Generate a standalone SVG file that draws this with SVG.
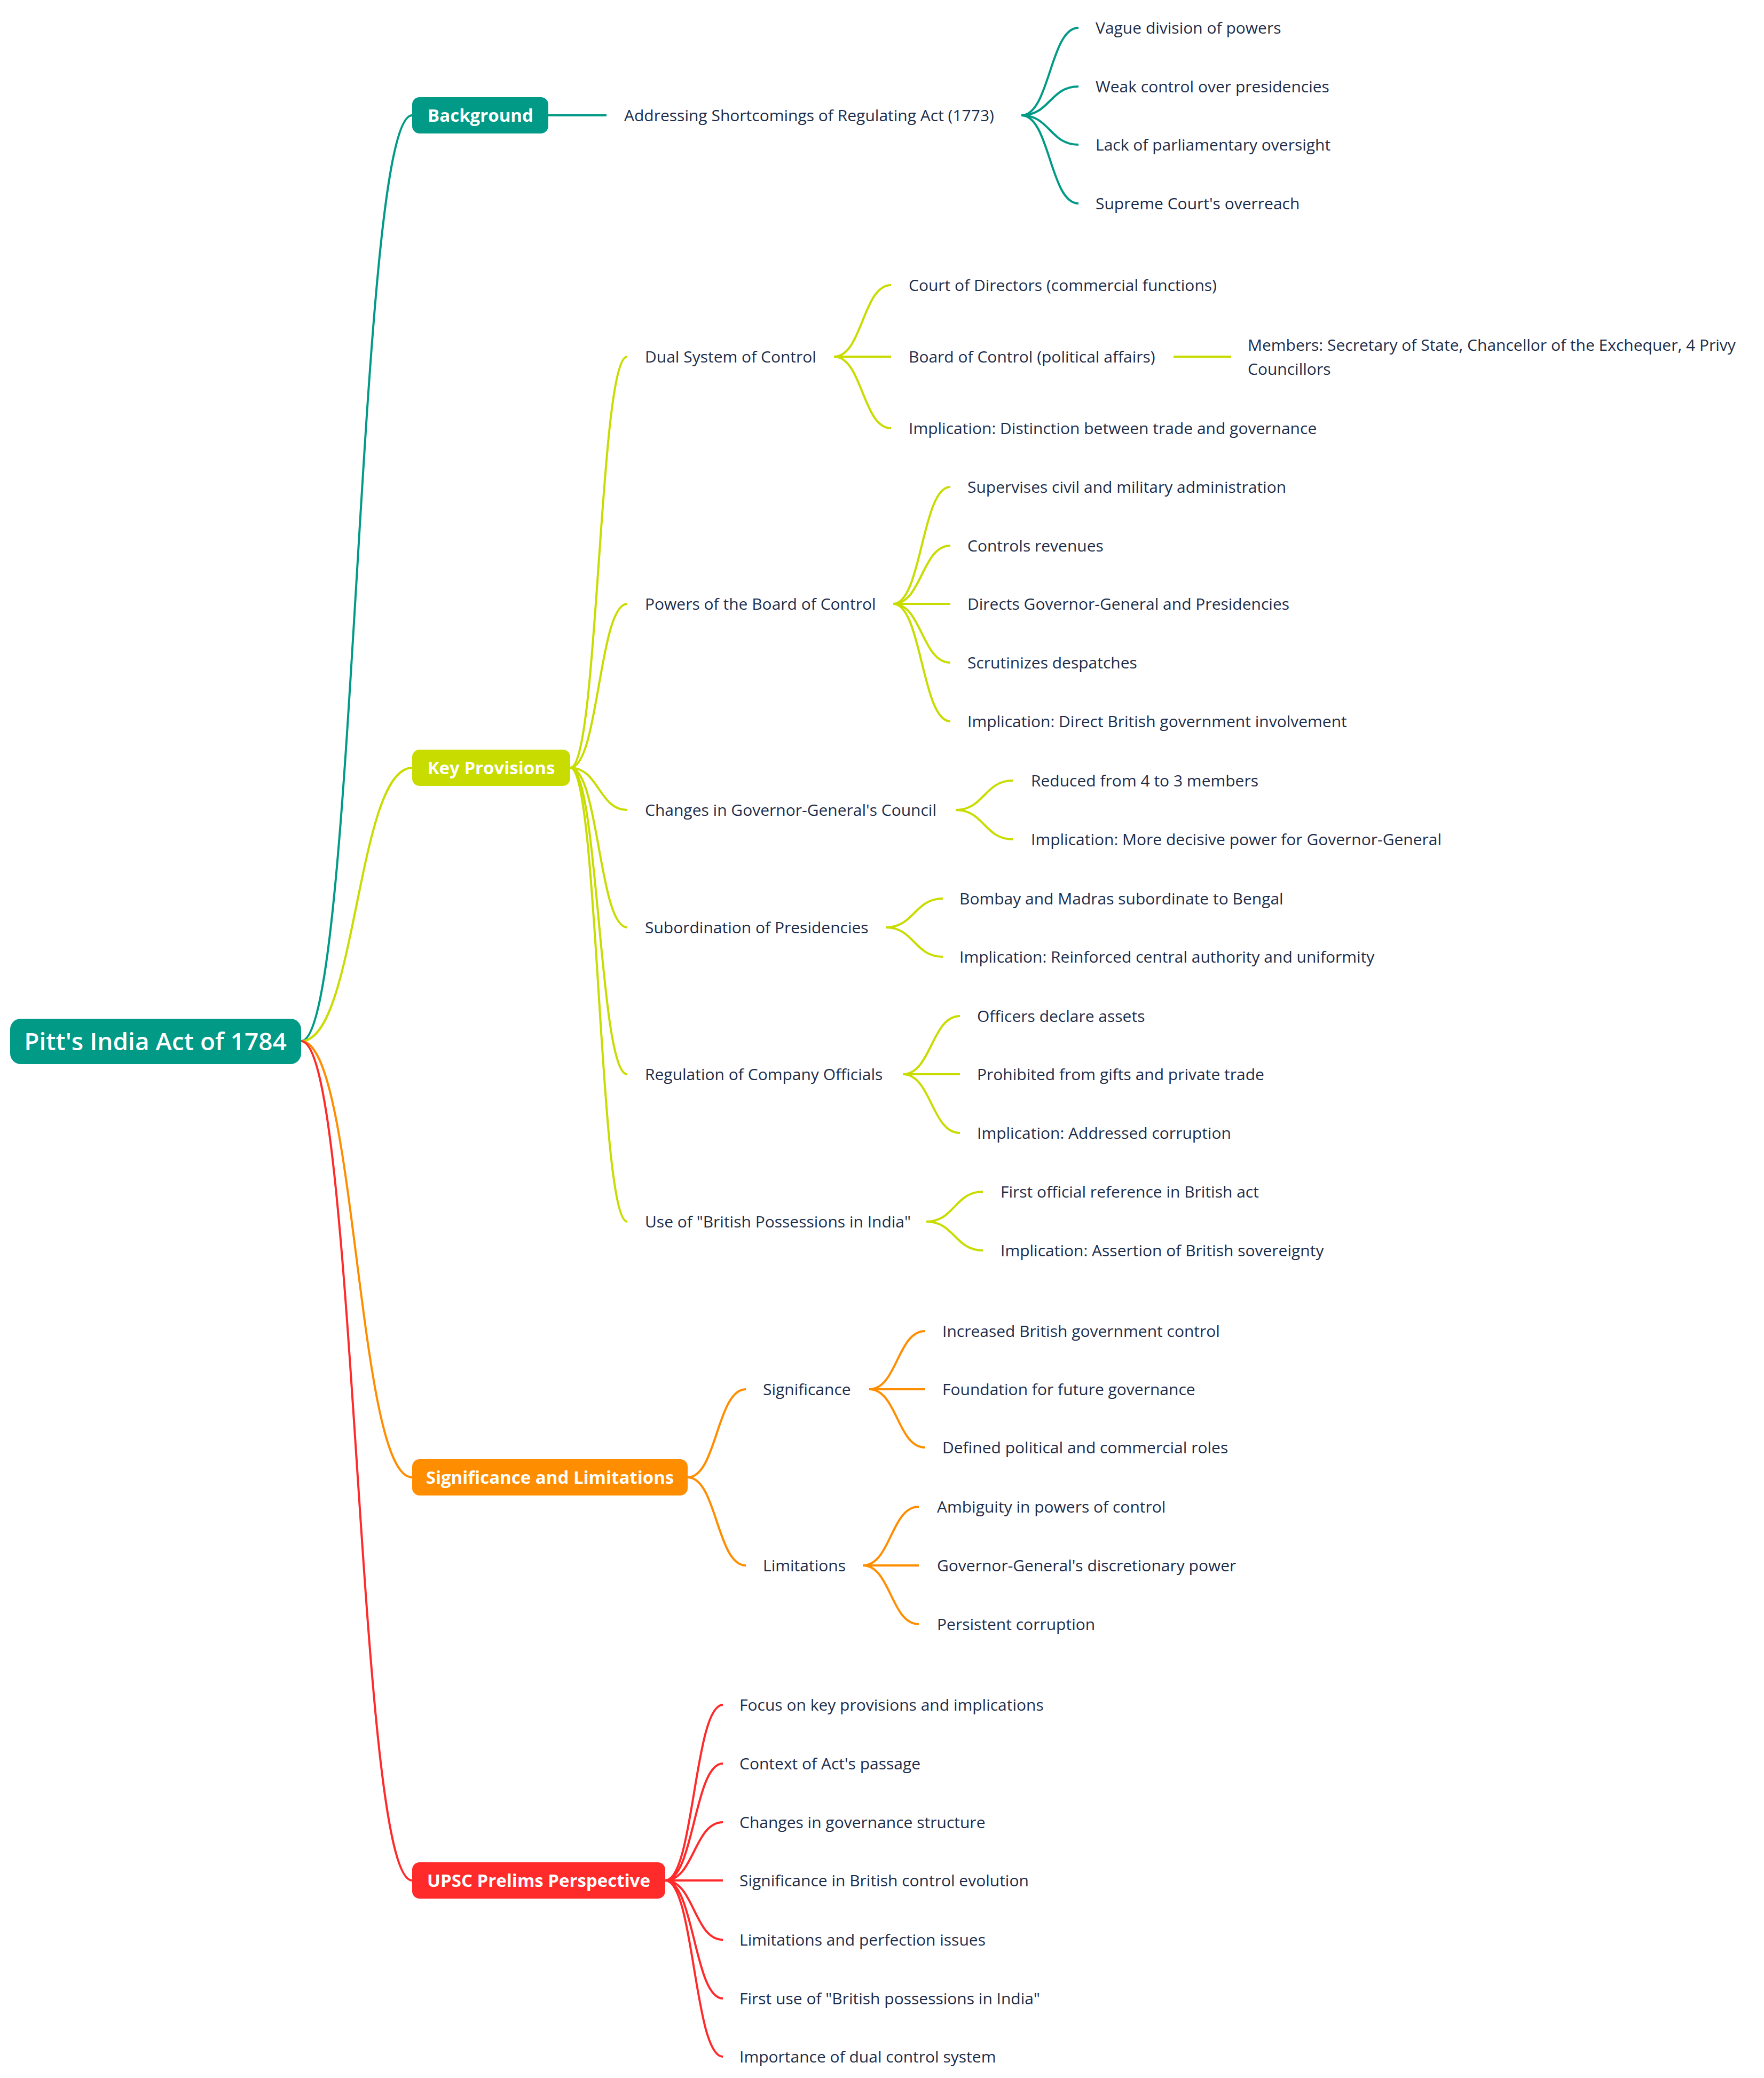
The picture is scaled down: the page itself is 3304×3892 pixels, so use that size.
<svg xmlns="http://www.w3.org/2000/svg" width="3304" height="3892" viewBox="0 0 3304 3892">
<style>
.bg{fill:#ffffff}
.t{font-family:"Open Sans","Noto Sans","Liberation Sans",sans-serif;font-size:30px;fill:#1e2d4a}
.main{font-family:"Open Sans","Noto Sans","Liberation Sans",sans-serif;font-size:33px;font-weight:700;fill:#ffffff;text-anchor:middle}
.root{font-family:"Open Sans","Noto Sans","Liberation Sans",sans-serif;font-size:46px;font-weight:600;fill:#ffffff;text-anchor:middle}
.c{fill:none;stroke-width:4}
.teal{stroke:#009a87}
.lime{stroke:#c8dc00}
.orange{stroke:#ff8d00}
.red{stroke:#ff2a2a}
</style>
<rect class="bg" x="0" y="0" width="3304" height="3892"/>
<g id="connectors">
  <path class="c teal" stroke-width="3.5" d="M564 1950 C668 1950 668 216 772 216"/>
  <path class="c lime" stroke-width="3.5" d="M564 1950 C668 1950 668 1438 772 1438"/>
  <path class="c orange" stroke-width="3.5" d="M564 1950 C668 1950 668 2767 772 2767"/>
  <path class="c red" stroke-width="3.5" d="M564 1950 C668 1950 668 3522 772 3522"/>

  <path class="c teal" d="M1027 216 L1136 216"/>
  <path class="c teal" d="M1913 216 C1966.5 216 1966.5 52 2020 52"/>
  <path class="c teal" d="M1913 216 C1966.5 216 1966.5 162 2020 162"/>
  <path class="c teal" d="M1913 216 C1966.5 216 1966.5 271 2020 271"/>
  <path class="c teal" d="M1913 216 C1966.5 216 1966.5 381 2020 381"/>

  <path class="c lime" d="M1068 1438 C1121.5 1438 1121.5 668 1175 668"/>
  <path class="c lime" d="M1068 1438 C1121.5 1438 1121.5 1131 1175 1131"/>
  <path class="c lime" d="M1068 1438 C1121.5 1438 1121.5 1517 1175 1517"/>
  <path class="c lime" d="M1068 1438 C1121.5 1438 1121.5 1737 1175 1737"/>
  <path class="c lime" d="M1068 1438 C1121.5 1438 1121.5 2012 1175 2012"/>
  <path class="c lime" d="M1068 1438 C1121.5 1438 1121.5 2288 1175 2288"/>

  <path class="c lime" d="M1562 668 C1615.5 668 1615.5 534 1669 534"/>
  <path class="c lime" d="M1562 668 L1669 668"/>
  <path class="c lime" d="M1562 668 C1615.5 668 1615.5 802 1669 802"/>
  <path class="c lime" d="M2198 668 L2306 668"/>

  <path class="c lime" d="M1673 1131 C1726.5 1131 1726.5 912 1780 912"/>
  <path class="c lime" d="M1673 1131 C1726.5 1131 1726.5 1022 1780 1022"/>
  <path class="c lime" d="M1673 1131 L1780 1131"/>
  <path class="c lime" d="M1673 1131 C1726.5 1131 1726.5 1241 1780 1241"/>
  <path class="c lime" d="M1673 1131 C1726.5 1131 1726.5 1351 1780 1351"/>

  <path class="c lime" d="M1790 1517 C1843.5 1517 1843.5 1462 1897 1462"/>
  <path class="c lime" d="M1790 1517 C1843.5 1517 1843.5 1572 1897 1572"/>

  <path class="c lime" d="M1659 1737 C1712.5 1737 1712.5 1683 1766 1683"/>
  <path class="c lime" d="M1659 1737 C1712.5 1737 1712.5 1792 1766 1792"/>

  <path class="c lime" d="M1691 2012 C1744.5 2012 1744.5 1903 1798 1903"/>
  <path class="c lime" d="M1691 2012 L1798 2012"/>
  <path class="c lime" d="M1691 2012 C1744.5 2012 1744.5 2122 1798 2122"/>

  <path class="c lime" d="M1735 2288 C1788 2288 1788 2232 1841 2232"/>
  <path class="c lime" d="M1735 2288 C1788 2288 1788 2342 1841 2342"/>

  <path class="c orange" d="M1288 2767 C1342.5 2767 1342.5 2602 1397 2602"/>
  <path class="c orange" d="M1288 2767 C1342.5 2767 1342.5 2932 1397 2932"/>
  <path class="c orange" d="M1628 2602 C1680.5 2602 1680.5 2493 1733 2493"/>
  <path class="c orange" d="M1628 2602 L1733 2602"/>
  <path class="c orange" d="M1628 2602 C1680.5 2602 1680.5 2711 1733 2711"/>
  <path class="c orange" d="M1616 2932 C1668.5 2932 1668.5 2822 1721 2822"/>
  <path class="c orange" d="M1616 2932 L1721 2932"/>
  <path class="c orange" d="M1616 2932 C1668.5 2932 1668.5 3042 1721 3042"/>

  <path class="c red" d="M1246 3522 C1300 3522 1300 3193 1354 3193"/>
  <path class="c red" d="M1246 3522 C1300 3522 1300 3303 1354 3303"/>
  <path class="c red" d="M1246 3522 C1300 3522 1300 3413 1354 3413"/>
  <path class="c red" d="M1246 3522 L1354 3522"/>
  <path class="c red" d="M1246 3522 C1300 3522 1300 3633 1354 3633"/>
  <path class="c red" d="M1246 3522 C1300 3522 1300 3743 1354 3743"/>
  <path class="c red" d="M1246 3522 C1300 3522 1300 3852 1354 3852"/>
</g>

<g id="node-root">
  <rect x="19" y="1908" width="545" height="85" rx="20" fill="#009a87"/>
  <text class="root" x="291" y="1967">Pitt's India Act of 1784</text>
</g>

<g id="node-background">
  <rect x="772" y="182" width="255" height="68" rx="14" fill="#009a87"/>
  <text class="main" x="900" y="228">Background</text>
</g>
<g id="node-addressing"><text class="t" x="1169" y="227">Addressing Shortcomings of Regulating Act (1773)</text></g>
<g id="node-vague"><text class="t" x="2052" y="63">Vague division of powers</text></g>
<g id="node-weak"><text class="t" x="2052" y="173">Weak control over presidencies</text></g>
<g id="node-lack"><text class="t" x="2052" y="282">Lack of parliamentary oversight</text></g>
<g id="node-supreme"><text class="t" x="2052" y="392">Supreme Court's overreach</text></g>

<g id="node-key">
  <rect x="772" y="1404" width="296" height="68" rx="14" fill="#c8dc00"/>
  <text class="main" x="920" y="1450">Key Provisions</text>
</g>
<g id="node-dual"><text class="t" x="1208" y="679">Dual System of Control</text></g>
<g id="node-court"><text class="t" x="1702" y="545">Court of Directors (commercial functions)</text></g>
<g id="node-board"><text class="t" x="1702" y="679">Board of Control (political affairs)</text></g>
<g id="node-members"><text class="t" x="2337" y="657">Members: Secretary of State, Chancellor of the Exchequer, 4 Privy<tspan x="2337" y="702">Councillors</tspan></text></g>
<g id="node-impl-dual"><text class="t" x="1702" y="813">Implication: Distinction between trade and governance</text></g>

<g id="node-powers"><text class="t" x="1208" y="1142">Powers of the Board of Control</text></g>
<g id="node-supervises"><text class="t" x="1812" y="923">Supervises civil and military administration</text></g>
<g id="node-revenues"><text class="t" x="1812" y="1033">Controls revenues</text></g>
<g id="node-directs"><text class="t" x="1812" y="1142">Directs Governor-General and Presidencies</text></g>
<g id="node-scrutinizes"><text class="t" x="1812" y="1252">Scrutinizes despatches</text></g>
<g id="node-impl-powers"><text class="t" x="1812" y="1362">Implication: Direct British government involvement</text></g>

<g id="node-changes"><text class="t" x="1208" y="1528">Changes in Governor-General's Council</text></g>
<g id="node-reduced"><text class="t" x="1931" y="1473">Reduced from 4 to 3 members</text></g>
<g id="node-impl-changes"><text class="t" x="1931" y="1583">Implication: More decisive power for Governor-General</text></g>

<g id="node-subordination"><text class="t" x="1208" y="1748">Subordination of Presidencies</text></g>
<g id="node-bombay"><text class="t" x="1797" y="1694">Bombay and Madras subordinate to Bengal</text></g>
<g id="node-impl-sub"><text class="t" x="1797" y="1803">Implication: Reinforced central authority and uniformity</text></g>

<g id="node-regulation"><text class="t" x="1208" y="2023">Regulation of Company Officials</text></g>
<g id="node-officers"><text class="t" x="1830" y="1914">Officers declare assets</text></g>
<g id="node-prohibited"><text class="t" x="1830" y="2023">Prohibited from gifts and private trade</text></g>
<g id="node-impl-reg"><text class="t" x="1830" y="2133">Implication: Addressed corruption</text></g>

<g id="node-use"><text class="t" x="1208" y="2299">Use of "British Possessions in India"</text></g>
<g id="node-first"><text class="t" x="1874" y="2243">First official reference in British act</text></g>
<g id="node-impl-use"><text class="t" x="1874" y="2353">Implication: Assertion of British sovereignty</text></g>

<g id="node-siglim">
  <rect x="772" y="2733" width="516" height="68" rx="14" fill="#ff8d00"/>
  <text class="main" x="1030" y="2779">Significance and Limitations</text>
</g>
<g id="node-significance"><text class="t" x="1429" y="2613">Significance</text></g>
<g id="node-increased"><text class="t" x="1765" y="2504">Increased British government control</text></g>
<g id="node-foundation"><text class="t" x="1765" y="2613">Foundation for future governance</text></g>
<g id="node-defined"><text class="t" x="1765" y="2722">Defined political and commercial roles</text></g>
<g id="node-limitations"><text class="t" x="1429" y="2943">Limitations</text></g>
<g id="node-ambiguity"><text class="t" x="1755" y="2833">Ambiguity in powers of control</text></g>
<g id="node-discretionary"><text class="t" x="1755" y="2943">Governor-General's discretionary power</text></g>
<g id="node-persistent"><text class="t" x="1755" y="3053">Persistent corruption</text></g>

<g id="node-upsc">
  <rect x="772" y="3488" width="474" height="68" rx="14" fill="#ff2a2a"/>
  <text class="main" x="1009" y="3534">UPSC Prelims Perspective</text>
</g>
<g id="node-focus"><text class="t" x="1385" y="3204">Focus on key provisions and implications</text></g>
<g id="node-context"><text class="t" x="1385" y="3314">Context of Act's passage</text></g>
<g id="node-governance"><text class="t" x="1385" y="3424">Changes in governance structure</text></g>
<g id="node-evolution"><text class="t" x="1385" y="3533">Significance in British control evolution</text></g>
<g id="node-perfection"><text class="t" x="1385" y="3644">Limitations and perfection issues</text></g>
<g id="node-firstuse"><text class="t" x="1385" y="3754">First use of "British possessions in India"</text></g>
<g id="node-importance"><text class="t" x="1385" y="3863">Importance of dual control system</text></g>
</svg>
